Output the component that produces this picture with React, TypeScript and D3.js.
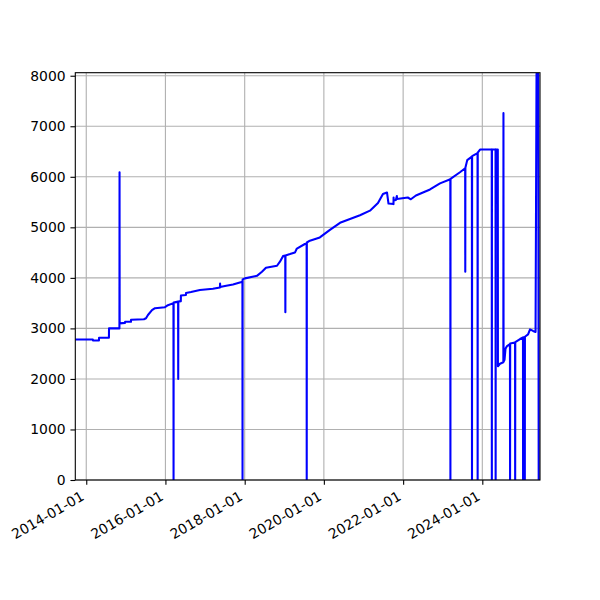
import { useEffect, useRef } from "react"
import * as d3 from "d3"

// series (daily spikes are single points)
const dates = [
  "2013-09-22", "2014-03-03", "2014-03-04", "2014-04-28", "2014-04-29", "2014-07-29", "2014-07-30",
  "2014-11-03", "2014-11-04", "2014-11-05", "2014-12-24", "2014-12-25", "2015-02-17", "2015-02-18",
  "2015-06-17", "2015-07-06", "2015-07-24", "2015-08-30", "2015-09-27", "2015-12-28", "2016-01-24",
  "2016-03-15", "2016-03-16", "2016-03-17", "2016-04-27", "2016-04-28", "2016-04-29", "2016-05-22",
  "2016-05-23", "2016-07-08", "2016-07-09", "2016-08-24", "2016-11-14", "2017-03-14", "2017-05-18",
  "2017-05-19", "2017-05-20", "2017-07-03", "2017-09-15", "2017-12-03", "2017-12-11", "2017-12-12",
  "2017-12-13", "2018-01-03", "2018-04-24", "2018-06-09", "2018-07-16", "2018-10-26", "2018-11-22",
  "2018-12-20", "2019-01-10", "2019-01-11", "2019-01-12", "2019-02-23", "2019-04-09", "2019-04-27",
  "2019-07-10", "2019-07-26", "2019-07-27", "2019-07-28", "2019-08-25", "2019-11-25", "2020-02-26",
  "2020-05-29", "2020-08-29", "2020-11-29", "2021-03-01", "2021-05-14", "2021-06-29", "2021-08-05",
  "2021-08-19", "2021-10-04", "2021-10-05", "2021-10-06", "2021-10-26", "2021-11-04", "2021-11-05",
  "2022-02-13", "2022-03-13", "2022-04-29", "2022-09-06", "2022-12-07", "2023-03-12", "2023-03-13",
  "2023-03-14", "2023-06-09", "2023-07-27", "2023-07-28", "2023-07-29", "2023-08-15", "2023-09-27",
  "2023-09-28", "2023-09-29", "2023-11-18", "2023-11-19", "2023-11-20", "2023-12-11", "2024-03-28",
  "2024-03-29", "2024-03-30", "2024-05-02", "2024-05-03", "2024-05-04", "2024-05-23", "2024-05-24",
  "2024-06-12", "2024-07-13", "2024-07-14", "2024-07-15", "2024-07-24", "2024-08-02", "2024-08-16",
  "2024-09-12", "2024-09-13", "2024-09-14", "2024-10-29", "2024-10-30", "2024-10-31", "2024-12-14",
  "2025-01-10", "2025-01-11", "2025-01-12", "2025-01-26", "2025-01-27", "2025-01-28", "2025-02-26",
  "2025-03-16", "2025-04-13", "2025-05-06", "2025-05-15", "2025-05-31", "2025-06-04", "2025-06-16",
]

const values = [
  2780, 2780, 2762, 2762, 2815, 2815, 3000,
  3000, 6090, 3100, 3110, 3130, 3130, 3170,
  3180, 3200, 3265, 3360, 3400, 3420, 3460,
  3500, 0, 3510, 3530, 2000, 3530, 3540,
  3650, 3660, 3700, 3720, 3760, 3785, 3810,
  3890, 3820, 3840, 3870, 3920, 3930, 0,
  3970, 3990, 4040, 4120, 4200, 4240, 4320,
  4430, 4440, 3320, 4445, 4470, 4500, 4580,
  4670, 4680, 0, 4700, 4735, 4800, 4950,
  5090, 5165, 5240, 5330, 5480, 5660, 5690,
  5470, 5460, 5590, 5530, 5540, 5620, 5560,
  5590, 5555, 5630, 5750, 5870, 5950, 0,
  5960, 6090, 6170, 4120, 6180, 6330, 6400,
  0, 6410, 6470, 0, 6480, 6540, 6540,
  0, 6540, 6540, 0, 6540, 6540, 2250,
  2300, 2330, 7260, 2340, 2380, 2600, 2650,
  2690, 0, 2700, 2720, 0, 2730, 2790,
  2820, 0, 2825, 2830, 0, 2835, 2880,
  2980, 2950, 2930, 8040, 8040, 0, 0,
]

const xTickDates = ["2014-01-01", "2016-01-01", "2018-01-01", "2020-01-01", "2022-01-01", "2024-01-01"]
const yTicks = [0, 1000, 2000, 3000, 4000, 5000, 6000, 7000, 8000]
const yMax = 8060

export default function App() {
  const svgRef = useRef(null)

  useEffect(() => {
    document.body.style.margin = "0"
    if (!svgRef.current) return

    const svg = d3.select(svgRef.current)
    svg.selectAll("*").remove()

    const width = 600
    const height = 600
    const margin = { top: 72.7, right: 60, bottom: 120, left: 75.3 }
    const innerWidth = width - margin.left - margin.right
    const innerHeight = height - margin.top - margin.bottom
    const font = "DejaVu Sans, sans-serif"

    const parse = d3.utcParse("%Y-%m-%d")
    const data = dates.map((d, i) => ({ date: parse(d), value: values[i] }))

    const x = d3
      .scaleUtc()
      .domain(d3.extent(data, (d) => d.date))
      .range([0, innerWidth])

    const y = d3.scaleLinear().domain([0, yMax]).range([innerHeight, 0])

    svg.attr("width", width).attr("height", height).attr("viewBox", [0, 0, width, height])

    svg.append("rect").attr("width", width).attr("height", height).attr("fill", "#fff")

    const g = svg.append("g").attr("transform", `translate(${margin.left},${margin.top})`)

    // grid
    g.append("g")
      .selectAll("line")
      .data(xTickDates.map(parse))
      .enter()
      .append("line")
      .attr("x1", (d) => x(d))
      .attr("x2", (d) => x(d))
      .attr("y1", 0)
      .attr("y2", innerHeight)
      .attr("stroke", "#b0b0b0")
      .attr("stroke-width", 1.1)

    g.append("g")
      .selectAll("line")
      .data(yTicks)
      .enter()
      .append("line")
      .attr("x1", 0)
      .attr("x2", innerWidth)
      .attr("y1", (d) => y(d))
      .attr("y2", (d) => y(d))
      .attr("stroke", "#b0b0b0")
      .attr("stroke-width", 1.1)

    // line
    svg
      .append("clipPath")
      .attr("id", "plot-clip")
      .append("rect")
      .attr("width", innerWidth)
      .attr("height", innerHeight)

    const line = d3
      .line()
      .x((d) => x(d.date))
      .y((d) => y(d.value))

    g.append("path")
      .datum(data)
      .attr("clip-path", "url(#plot-clip)")
      .attr("fill", "none")
      .attr("stroke", "#0000ff")
      .attr("stroke-width", 2.08)
      .attr("stroke-linejoin", "round")
      .attr("stroke-linecap", "square")
      .attr("d", line)

    // x axis
    const xAxis = g
      .append("g")
      .attr("transform", `translate(0,${innerHeight})`)
      .call(
        d3
          .axisBottom(x)
          .tickValues(xTickDates.map(parse))
          .tickFormat(d3.utcFormat("%Y-%m-%d"))
          .tickSize(4.86)
          .tickSizeOuter(0),
      )
    xAxis.select(".domain").remove()
    xAxis.selectAll("line").attr("stroke", "#000").attr("stroke-width", 1.1)
    xAxis
      .selectAll("text")
      .attr("x", 0)
      .attr("y", 0)
      .attr("dy", null)
      .attr("transform", "translate(-1.6,19.2) rotate(-30)")
      .style("text-anchor", "end")
      .attr("fill", "#000")
      .attr("font-size", "13.9px")
      .attr("font-family", font)

    // y axis
    const yAxis = g.append("g").call(
      d3
        .axisLeft(y)
        .tickValues(yTicks)
        .tickFormat((d) => String(d))
        .tickSize(4.86)
        .tickPadding(4.86)
        .tickSizeOuter(0),
    )
    yAxis.select(".domain").remove()
    yAxis.selectAll("line").attr("stroke", "#000").attr("stroke-width", 1.1)
    yAxis
      .selectAll("text")
      .attr("fill", "#000")
      .attr("font-size", "13.9px")
      .attr("font-family", font)

    // spines
    g.append("rect")
      .attr("width", innerWidth)
      .attr("height", innerHeight)
      .attr("fill", "none")
      .attr("stroke", "#000")
      .attr("stroke-width", 1.1)
  }, [])

  return <svg ref={svgRef}></svg>
}
